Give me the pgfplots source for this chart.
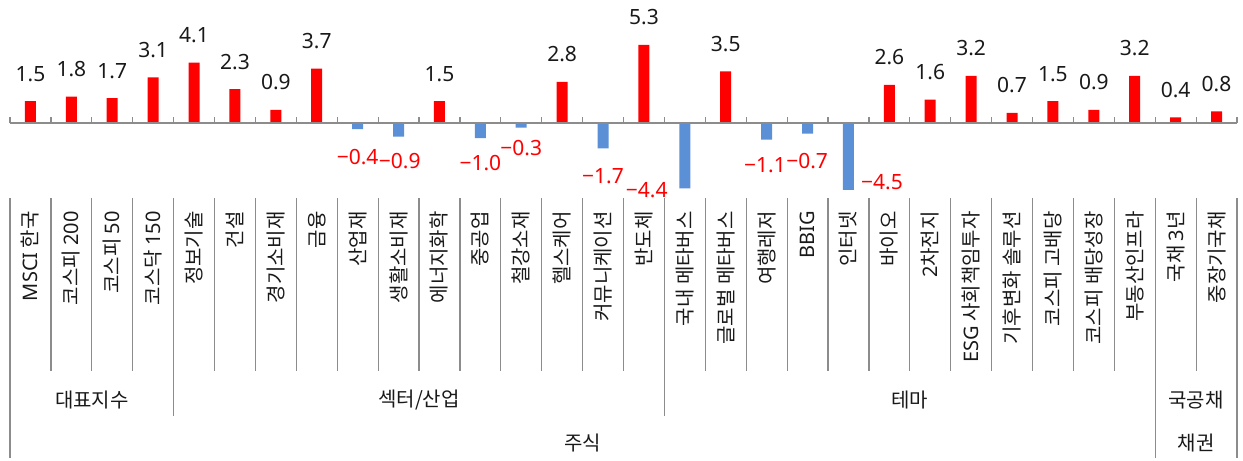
\documentclass[border=0pt]{standalone}
\usepackage{pgfplots}
\pgfplotsset{compat=1.18}
\usepackage{fontspec}
\setmainfont{Noto Sans}
\newfontfamily\kr{Noto Sans CJK KR}
\newfontfamily\lat{Noto Sans}
\definecolor{barred}{HTML}{FF0000}
\definecolor{barblue}{HTML}{5B8FD6}
\definecolor{sepgray}{HTML}{8C8C8C}
\newcommand{\valfont}{\fontsize{21bp}{25bp}\selectfont}
\newcommand{\krfont}{\kr\fontsize{20bp}{24bp}\selectfont}
\begin{document}
\begin{tikzpicture}
\useasboundingbox (-10bp,-263bp) rectangle (1233bp,198bp);
\begin{axis}[
 at={(0,0)}, anchor=south west,
 scale only axis, width=1227bp, height=198bp,
 xmin=-0.5, xmax=29.5, ymin=-5.05, ymax=8.33,
 axis line style={draw=none},
 ytick=\empty,
 xtick={0,...,29},
 xticklabels={{\lat MSCI} 한국, 코스피 {\lat 200}, 코스피 {\lat 50}, 코스닥 {\lat 150}, 정보기술, 건설, 경기소비재, 금융, 산업재, 생활소비재, 에너지화학, 중공업, 철강소재, 헬스케어, 커뮤니케이션, 반도체, 국내 메타버스, 글로벌 메타버스, 여행레저, {\lat BBIG}, 인터넷, 바이오, {\lat 2}차전지, {\lat ESG} 사회책임투자, 기후변화 솔루션, 코스피 고배당, 코스피 배당성장, 부동산인프라, 국채 {\lat 3}년, 중장기국채},
 xticklabel style={yshift=-13bp, rotate=90, anchor=east, inner sep=0pt, font=\krfont, text=black!90},
 major tick length=0pt,
 xtick style={draw=none},
 clip=false,
 ybar, bar width=11bp, bar shift=0pt,
 /pgf/number format/.cd, fixed, fixed zerofill, precision=1, assume math mode=true,
]
\addplot[fill=barred, draw=none, nodes near coords,
  every node near coord/.append style={anchor=south, inner sep=0pt, yshift=19.5bp, font=\valfont, text=black!90}]
 table {
x y
0 1.5
1 1.8
2 1.7
3 3.1
4 4.1
5 2.3
6 0.9
7 3.7
10 1.5
13 2.8
15 5.3
17 3.5
21 2.6
22 1.6
23 3.2
24 0.7
25 1.5
26 0.9
27 3.2
28 0.4
29 0.8
};
\addplot[fill=barblue, draw=none] table {
x y
8 -0.4
9 -0.9
11 -1.0
12 -0.3
14 -1.7
16 -4.4
18 -1.1
19 -0.7
20 -4.5
};
\begin{scope}[every node/.style={text=barred, font=\valfont, inner sep=0pt}]
\node at (axis cs:8,-2.28) {−0.4};
\node at (axis cs:9.03,-2.55) {−0.9};
\node at (axis cs:11,-2.69) {−1.0};
\node at (axis cs:12,-1.67) {−0.3};
\node at (axis cs:14,-3.56) {−1.7};
\node at (axis cs:15.07,-4.51) {−4.4};
\node at (axis cs:17.96,-2.82) {−1.1};
\node at (axis cs:18.99,-2.55) {−0.7};
\node at (axis cs:20.82,-3.97) {−4.5};
\end{scope}
\end{axis}
% zero line and ticks
\draw[sepgray, line width=1.6bp] (0,74.73bp) -- (1227bp,74.73bp);
\foreach \i in {0,...,30} \draw[sepgray, line width=1.2bp] (\i*40.9bp,74.73bp) -- ++(0,6bp);
% category separators
\foreach \i in {0,...,30} \draw[sepgray, line width=1.2bp] (\i*40.9bp,0) -- (\i*40.9bp,-173bp);
\foreach \i in {4,16} \draw[sepgray, line width=1.2bp] (\i*40.9bp,0) -- (\i*40.9bp,-218bp);
\foreach \i in {0,28,30} \draw[sepgray, line width=1.2bp] (\i*40.9bp,0) -- (\i*40.9bp,-260bp);
% group labels
\begin{scope}[every node/.style={font=\krfont, text=black!90, inner sep=0pt}]
\node at (81.8bp,-202bp) {대표지수};
\node at (409bp,-202bp) {섹터/산업};
\node at (899.8bp,-202bp) {테마};
\node at (1186bp,-202bp) {국공채};
\node at (572.6bp,-245bp) {주식};
\node at (1186bp,-245bp) {채권};
\end{scope}
\end{tikzpicture}
\end{document}
